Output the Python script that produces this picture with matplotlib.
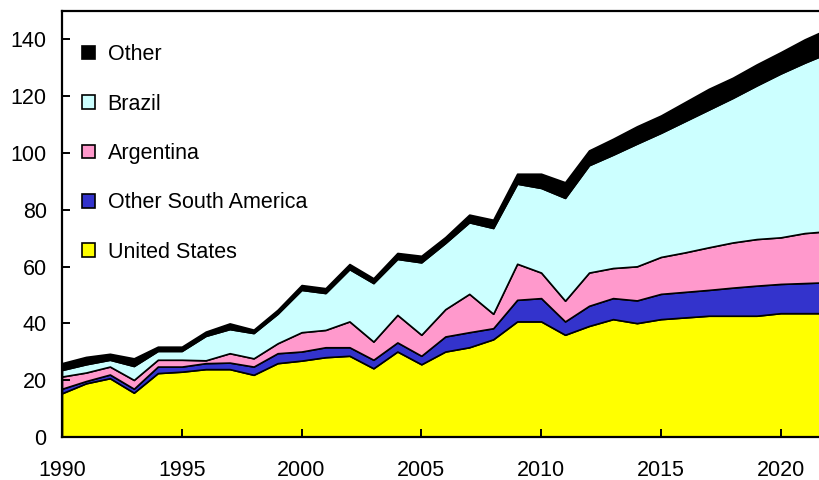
import matplotlib
matplotlib.use("Agg")
import matplotlib.pyplot as plt
import numpy as np

years = list(range(1990, 2023))

united_states = [15.4, 18.9, 20.7, 15.6, 22.5, 23.0, 23.9, 23.9, 21.9, 26.0,
                 26.9, 28.1, 28.6, 24.2, 30.1, 25.6, 30.1, 31.6, 34.4, 40.7,
                 40.7, 36.0, 39.1, 41.5, 40.1, 41.5, 42.1, 42.7, 42.7, 42.7,
                 43.6, 43.6, 43.6]
other_south_america = [1.6, 0.8, 1.3, 1.4, 2.3, 1.8, 2.1, 2.3, 2.9, 3.5,
                       3.2, 3.5, 3.0, 3.0, 3.2, 3.0, 5.3, 5.3, 3.9, 7.6,
                       8.2, 4.7, 7.1, 7.4, 8.0, 8.9, 9.0, 9.1, 9.9, 10.6,
                       10.3, 10.6, 10.9]
argentina = [4.3, 3.0, 2.8, 3.1, 2.4, 2.4, 1.0, 3.3, 2.9, 3.5,
             6.8, 6.1, 9.1, 6.4, 9.7, 7.4, 9.6, 13.5, 5.1, 12.7,
             9.0, 7.3, 11.7, 10.6, 12.0, 13.0, 13.9, 15.0, 15.9, 16.4,
             16.4, 17.6, 18.0]
brazil = [2.3, 2.9, 2.4, 4.9, 3.1, 3.1, 8.6, 8.5, 8.9, 10.4,
          14.9, 13.0, 18.4, 20.6, 19.7, 25.5, 23.3, 25.2, 30.2, 28.2,
          29.8, 36.2, 37.8, 39.9, 43.2, 43.7, 46.2, 48.5, 50.9, 54.1,
          57.7, 60.0, 62.8]
other = [2.4, 2.6, 2.1, 2.7, 1.5, 1.5, 1.5, 2.0, 1.2, 1.4,
         1.7, 1.7, 1.8, 1.7, 2.1, 2.3, 2.1, 2.7, 2.9, 3.5,
         5.0, 5.5, 5.2, 5.6, 6.1, 6.1, 6.7, 7.3, 7.1, 7.4,
         7.5, 8.2, 8.5]

labels = ["United States", "Other South America", "Argentina", "Brazil", "Other"]
colors = ["#FFFF00", "#3333CC", "#FF99CC", "#CCFFFF", "#000000"]

plt.rcParams['font.family'] = ['Liberation Sans', 'DejaVu Sans']

fig = plt.figure(figsize=(8.19, 4.8), dpi=100)
ax = fig.add_axes([62/819, 1-437/480, 757/819, 426/480])

polys = ax.stackplot(years, united_states, other_south_america, argentina, brazil, other,
                     colors=colors, labels=labels, edgecolor="black", linewidth=1.2)

ax.set_xlim(1990, 2021.6)
ax.set_ylim(0, 150)
ax.set_xticks(range(1990, 2021, 5))
ax.set_yticks(range(0, 141, 20))

for s in ["left", "top", "bottom"]:
    ax.spines[s].set_linewidth(1.6)
ax.spines["right"].set_visible(False)

ax.tick_params(axis="both", direction="in", length=6, width=1.4, labelsize=15.5)
ax.tick_params(axis="x", pad=16.5)
ax.tick_params(axis="y", pad=11)

handles, labs = ax.get_legend_handles_labels()
leg = ax.legend(handles[::-1], labs[::-1], loc="upper left",
                bbox_to_anchor=(0.026, 0.922), frameon=False, borderaxespad=0,
                borderpad=0, fontsize=15.5, handlelength=0.6, handleheight=0.6,
                handletextpad=0.6, labelspacing=1.32)

fig.savefig("out.png", dpi=100)
